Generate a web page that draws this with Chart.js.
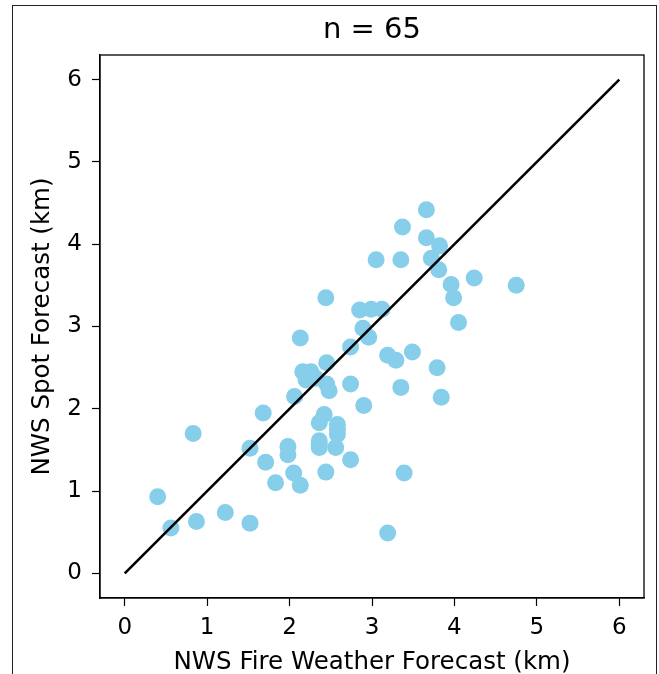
<!DOCTYPE html>
<html>
<head>
<meta charset="utf-8">
<script src="https://cdn.jsdelivr.net/npm/chart.js@4.4.0/dist/chart.umd.min.js"></script>
<style>
  html, body { margin: 0; padding: 0; background: #fff; overflow: hidden; }
  #frame { position: absolute; left: 12px; top: 5px; width: 645px; height: 720px; border: 1px solid #222; box-sizing: border-box; }
  #wrap { position: absolute; left: 0; top: 0; width: 659px; height: 674px; }
</style>
</head>
<body>
<div id="frame"></div>
<div id="wrap"><canvas id="c" width="659" height="674"></canvas></div>
<script>
// data
var fireWx = [0.40, 0.56, 0.83, 0.87, 1.22, 1.52, 1.52, 1.68, 1.71, 1.83,
  1.98, 1.98, 2.05, 2.06, 2.13, 2.13, 2.16, 2.26, 2.20, 2.32,
  2.45, 2.48, 2.45, 2.42, 2.36, 2.36, 2.36, 2.44, 2.44, 2.58,
  2.58, 2.56, 2.74, 2.74, 2.74, 2.85, 2.99, 3.12, 2.89, 2.96,
  2.90, 3.05, 3.19, 3.29, 3.19, 3.35, 3.37, 3.35, 3.39, 3.49,
  3.66, 3.66, 3.72, 3.82, 3.81, 3.79, 3.84, 3.96, 3.99, 4.05,
  4.24, 4.75, 2.22, 2.58, 2.36];
var spot = [0.93, 0.55, 1.70, 0.63, 0.74, 0.61, 1.52, 1.95, 1.35, 1.10,
  1.54, 1.44, 1.22, 2.15, 2.86, 1.07, 2.45, 2.45, 2.35, 2.37,
  2.30, 2.22, 2.56, 1.93, 1.83, 1.61, 1.53, 1.23, 3.35, 1.81,
  1.69, 1.53, 2.75, 2.30, 1.38, 3.20, 3.21, 3.21, 2.98, 2.87,
  2.04, 3.81, 2.65, 2.59, 0.49, 3.81, 4.21, 2.26, 1.22, 2.69,
  4.42, 4.08, 3.83, 3.98, 3.69, 2.50, 2.14, 3.51, 3.35, 3.05,
  3.59, 3.50, 2.40, 1.75, 1.57];
var oneToOne = [0, 6];
var tickVals = [0, 1, 2, 3, 4, 5, 6];
var titleText = 'n = ' + fireWx.length;

var pts = fireWx.map(function(x, i) { return { x: x, y: spot[i] }; });
var linePts = oneToOne.map(function(v) { return { x: v, y: v }; });

var font = 'DejaVu Sans';

// axes box (top/right edges) + title centred over the plot area
var boxPlugin = {
  id: 'box',
  afterDraw: function(chart) {
    var a = chart.chartArea, ctx = chart.ctx;
    ctx.save();
    ctx.strokeStyle = '#000';
    ctx.lineWidth = 1.3;
    ctx.strokeRect(a.left, a.top, a.right - a.left, a.bottom - a.top);
    ctx.fillStyle = '#000';
    ctx.font = '29px "' + font + '"';
    ctx.textAlign = 'center';
    ctx.textBaseline = 'middle';
    ctx.fillText(titleText, (a.left + a.right) / 2, 30);
    ctx.restore();
  }
};

function fixTicks(scale) {
  scale.ticks = tickVals.map(function(v) { return { value: v }; });
}

new Chart(document.getElementById('c').getContext('2d'), {
  type: 'scatter',
  data: {
    datasets: [{
      data: pts,
      backgroundColor: '#87CEEB',
      borderWidth: 0,
      pointRadius: 8.5,
      pointHoverRadius: 8.5,
      order: 2
    }, {
      type: 'line',
      data: linePts,
      borderColor: '#000',
      borderWidth: 2.6,
      pointRadius: 0,
      fill: false,
      order: 1
    }]
  },
  plugins: [boxPlugin],
  options: {
    responsive: false,
    animation: false,
    layout: { padding: { left: 28, right: 15, top: 55, bottom: 0 } },
    plugins: {
      legend: { display: false },
      tooltip: { enabled: false },
      title: { display: false }
    },
    scales: {
      x: {
        min: -0.3, max: 6.3,
        afterBuildTicks: fixTicks,
        afterFit: function(s) { s.height = 76; },
        grid: { drawOnChartArea: false, drawTicks: true, tickLength: 8, tickColor: '#000', tickWidth: 1.2 },
        border: { color: '#000', width: 1.3 },
        ticks: { color: '#000', font: { family: font, size: 23 }, padding: 8, maxRotation: 0 },
        title: { display: true, text: 'NWS Fire Weather Forecast (km)', color: '#000', font: { family: font, size: 24.5 }, padding: { top: 2, bottom: -3 } }
      },
      y: {
        min: -0.3, max: 6.3,
        afterBuildTicks: fixTicks,
        afterFit: function(s) { s.width = 72; },
        grid: { drawOnChartArea: false, drawTicks: true, tickLength: 8, tickColor: '#000', tickWidth: 1.2 },
        border: { color: '#000', width: 1.3 },
        ticks: { color: '#000', font: { family: font, size: 23 }, padding: 10 },
        title: { display: true, text: 'NWS Spot Forecast (km)', color: '#000', font: { family: font, size: 24.5 }, padding: { top: 0, bottom: 6 } }
      }
    }
  }
});
</script>
</body>
</html>
